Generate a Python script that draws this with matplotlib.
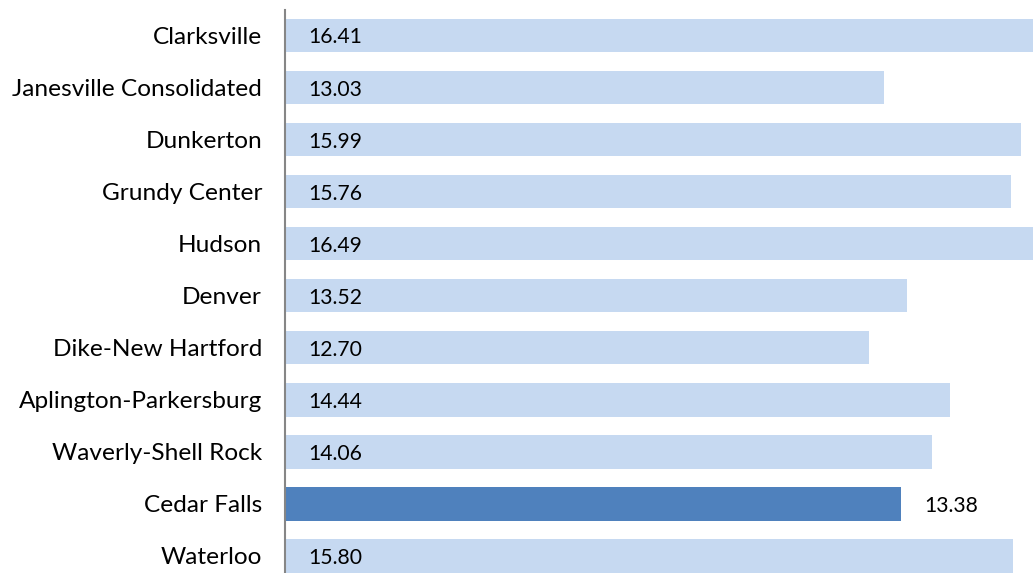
import matplotlib
matplotlib.use('Agg')
import matplotlib.pyplot as plt

# districts, top to bottom as in the chart
districts = ['Clarksville', 'Janesville Consolidated', 'Dunkerton', 'Grundy Center',
             'Hudson', 'Denver', 'Dike-New Hartford', 'Aplington-Parkersburg',
             'Waverly-Shell Rock', 'Cedar Falls', 'Waterloo']
values = [16.41, 13.03, 15.99, 15.76, 16.49, 13.52, 12.70, 14.44, 14.06, 13.38, 15.80]
highlight = 'Cedar Falls'

light = '#C6D9F1'
dark = '#4F81BD'

plt.rcParams['font.family'] = ['Lato', 'DejaVu Sans']

fig = plt.figure(figsize=(10.33, 5.73), dpi=100)
ax = fig.add_axes([285 / 1033, 0, 748 / 1033, 563 / 573])

pos = list(range(len(districts)))
colors = [dark if d == highlight else light for d in districts]
ax.barh(pos, values, height=0.645, color=colors)

xmin = 0.08
ax.set_xlim(xmin, xmin + 748 / 46.28)
ax.set_ylim(10.33, -0.49)

# labels: inside the bar near the axis, outside for the highlighted one
for i, (d, v) in enumerate(zip(districts, values)):
    if d == highlight:
        ax.annotate(f'{v:.2f}', xy=(v, i), xytext=(24, -2), textcoords='offset pixels',
                    ha='left', va='center', fontsize=15.2, color='black')
    else:
        ax.annotate(f'{v:.2f}', xy=(xmin, i), xytext=(23, -2), textcoords='offset pixels',
                    ha='left', va='center', fontsize=15.2, color='black')

ax.set_yticks(pos)
ax.set_yticklabels(districts, fontsize=17.6)
ax.tick_params(axis='y', length=0, pad=16.5)
ax.set_xticks([])

for s in ['top', 'right', 'bottom']:
    ax.spines[s].set_visible(False)
ax.spines['left'].set_color('#868686')
ax.spines['left'].set_linewidth(1.5)

fig.savefig('out.png', dpi=100)
